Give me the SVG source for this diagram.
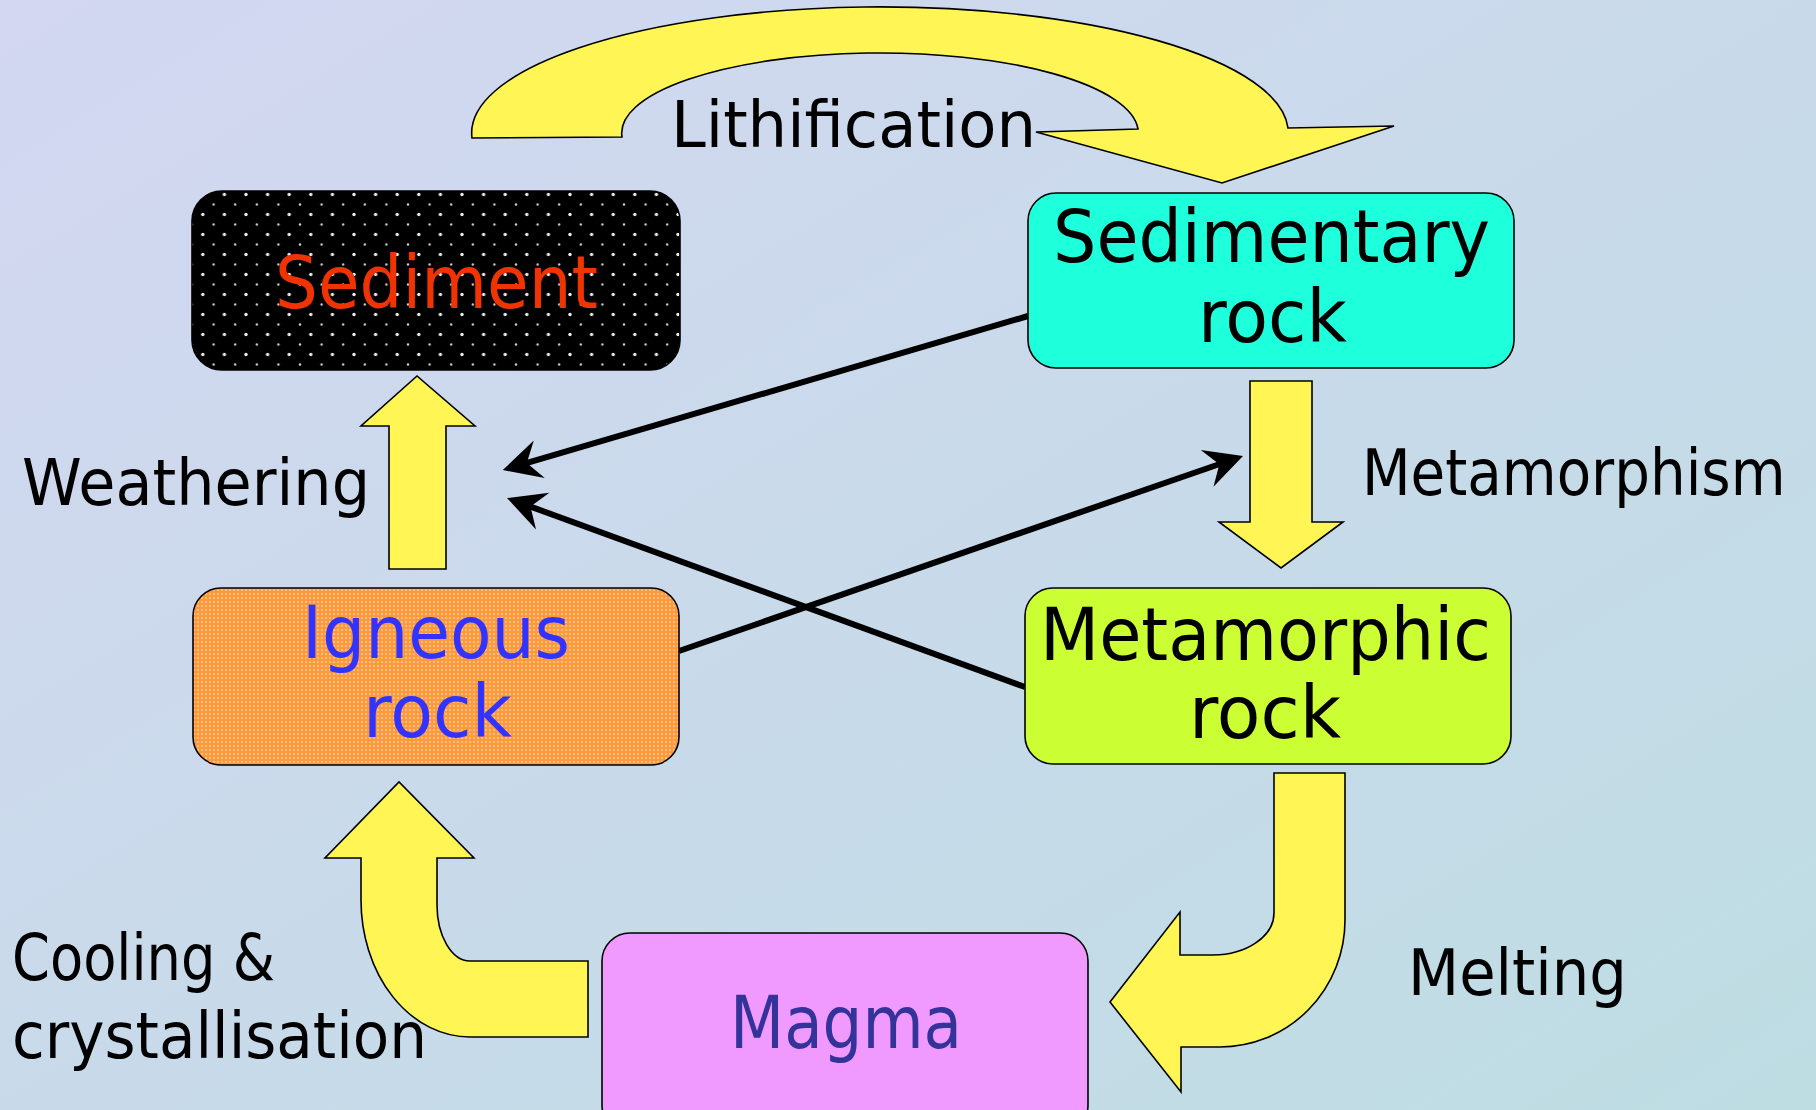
<svg xmlns="http://www.w3.org/2000/svg" width="1816" height="1110" viewBox="0 0 1816 1110">
<defs>
<linearGradient id="bg" x1="0" y1="0" x2="1" y2="1">
<stop offset="0" stop-color="#d3d7f1"/>
<stop offset="1" stop-color="#bedde3"/>
</linearGradient>
<pattern id="dots" width="21.6" height="20" patternUnits="userSpaceOnUse" x="192" y="191">
<rect width="21.6" height="20" fill="#000"/>
<circle cx="10.8" cy="3.5" r="1.7" fill="#eeeeee"/>
<circle cx="0" cy="13.5" r="1.2" fill="#cccccc"/>
<circle cx="21.6" cy="13.5" r="1.2" fill="#cccccc"/>
</pattern>
<pattern id="orange" width="4" height="4" patternUnits="userSpaceOnUse">
<rect width="4" height="4" fill="#ff9a3c"/>
<circle cx="2" cy="2" r="0.9" fill="#ffd2a6"/>
</pattern>
<marker id="head" markerUnits="userSpaceOnUse" orient="auto" refX="0" refY="0" markerWidth="60" markerHeight="60" overflow="visible">
<path d="M20,0 L-18,-19.5 L-5,0 L-18,19.5 Z" fill="#000"/>
</marker>
<style>
.box{stroke:#000;stroke-width:1.6}
.t{font-family:"DejaVu Sans","Liberation Sans",sans-serif;font-size:73px;text-anchor:middle}
.lbl{font-family:"DejaVu Sans","Liberation Sans",sans-serif;font-size:64px;fill:#000}
.flow{fill:#fff555;stroke:#000;stroke-width:1.6;stroke-linejoin:miter}
.line{stroke:#000;stroke-width:6;fill:none;marker-end:url(#head)}
</style>
</defs>
<rect width="1816" height="1110" fill="url(#bg)"/>

<g id="connectors">
<path class="flow" d="M472,138 A408,126 0 0 1 1288,128 L1394,126 L1222,183 L1036,132 L1138,129 A258,80 0 0 0 622,137 Z"/>
<path class="flow" d="M389,569 L389,426 L361,426 L417,376 L475,426 L446,426 L446,569 Z"/>
<path class="flow" d="M1250,381 L1312,381 L1312,522 L1343,522 L1281,568 L1219,522 L1250,522 Z"/>
<path class="flow" d="M1274,773 L1345,773 L1345,920 A125,127 0 0 1 1220,1047 L1181,1047 L1181,1092 L1110,1002 L1180,912 L1180,955 L1213,955 A61,42 0 0 0 1274,913 Z"/>
<path class="flow" d="M588,961 L588,1037 L470,1037 A109,137 0 0 1 361,900 L361,858 L325,858 L399,782 L474,858 L437,858 L437,905 A33,56 0 0 0 470,961 Z"/>
<line class="line" x1="1028" y1="316" x2="522" y2="464.4"/>
<line class="line" x1="1025" y1="687" x2="525.8" y2="504.9"/>
<line class="line" x1="679" y1="651" x2="1224.1" y2="462.5"/>
</g>

<g id="labels">
<text class="lbl" x="853.5" y="147" text-anchor="middle" textLength="365" lengthAdjust="spacingAndGlyphs">Lithification</text>
<text class="lbl" x="22" y="505" textLength="348" lengthAdjust="spacingAndGlyphs">Weathering</text>
<text class="lbl" transform="translate(1362,495) scale(0.88,1)" x="0" y="0">Metamorphism</text>
<text class="lbl" x="1408" y="995" textLength="219" lengthAdjust="spacingAndGlyphs">Melting</text>
<text class="lbl" x="12" y="980" textLength="263" lengthAdjust="spacingAndGlyphs">Cooling &amp;</text>
<text class="lbl" x="12" y="1058" textLength="415" lengthAdjust="spacingAndGlyphs">crystallisation</text>
</g>

<g id="sediment">
<rect class="box" x="192" y="191" width="488" height="179" rx="30" fill="url(#dots)"/>
<text class="t" x="436.5" y="308" fill="#f03300" textLength="323" lengthAdjust="spacingAndGlyphs">Sediment</text>
</g>

<g id="sedimentary-rock">
<rect class="box" x="1028" y="193" width="486" height="175" rx="28" fill="#1effdc"/>
<text class="t" x="1271.5" y="262" fill="#000" textLength="437" lengthAdjust="spacingAndGlyphs">Sedimentary</text>
<text class="t" x="1272.5" y="342" fill="#000" textLength="149" lengthAdjust="spacingAndGlyphs">rock</text>
</g>

<g id="igneous-rock">
<rect class="box" x="193" y="588" width="486" height="177" rx="28" fill="url(#orange)"/>
<text class="t" x="436" y="658" fill="#3333ff" textLength="268" lengthAdjust="spacingAndGlyphs">Igneous</text>
<text class="t" x="437.5" y="737" fill="#3333ff" textLength="149" lengthAdjust="spacingAndGlyphs">rock</text>
</g>

<g id="metamorphic-rock">
<rect class="box" x="1025" y="588" width="486" height="176" rx="28" fill="#ccff33"/>
<text class="t" x="1265.5" y="660" fill="#000" textLength="451" lengthAdjust="spacingAndGlyphs">Metamorphic</text>
<text class="t" x="1265" y="738" fill="#000" textLength="152" lengthAdjust="spacingAndGlyphs">rock</text>
</g>

<g id="magma">
<rect class="box" x="602" y="933" width="486" height="200" rx="28" fill="#f099ff"/>
<text class="t" x="846" y="1048" fill="#333399" textLength="232" lengthAdjust="spacingAndGlyphs">Magma</text>
</g>
</svg>
